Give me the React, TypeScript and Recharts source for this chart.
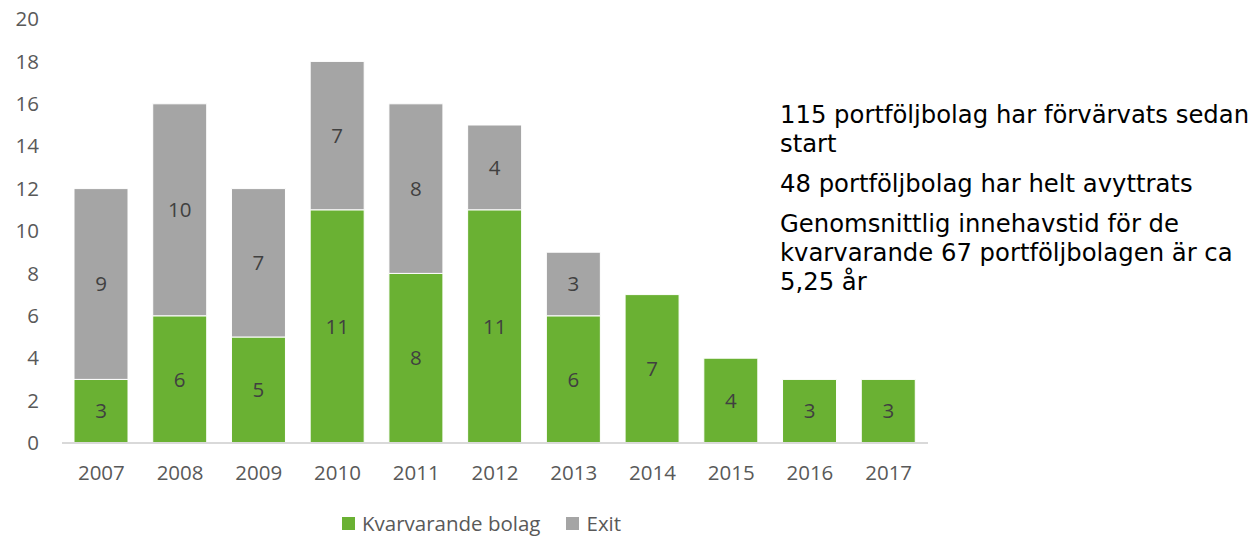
import React from 'react';
import { BarChart, Bar, XAxis, YAxis, LabelList } from 'recharts';

const years = ['2007', '2008', '2009', '2010', '2011', '2012', '2013', '2014', '2015', '2016', '2017'];
const kvarvarande = [3, 6, 5, 11, 8, 11, 6, 7, 4, 3, 3];
const exitValues = [9, 10, 7, 7, 8, 4, 3, 0, 0, 0, 0];
const yTicks = [0, 2, 4, 6, 8, 10, 12, 14, 16, 18, 20];
const seriesNames = ['Kvarvarande bolag', 'Exit'];
const seriesColors = ['#6AB133', '#A5A5A5'];
const noteParagraphs = [
  ['115 portföljbolag har förvärvats sedan', 'start'],
  ['48 portföljbolag har helt avyttrats'],
  ['Genomsnittlig innehavstid för de', 'kvarvarande 67 portföljbolagen är ca', '5,25 år'],
];

const data = years.map((y, i) => ({ year: y, kvar: kvarvarande[i], exit: exitValues[i] }));

const chartFont = '"Open Sans", sans-serif';
const fs = 20.5;

export default function App() {
  return (
    <div style={{ position: 'absolute', left: 0, top: 0, width: 1254, height: 537, background: '#fff', overflow: 'hidden' }}>
      <BarChart
        width={1254}
        height={537}
        data={data}
        margin={{ top: 19, right: 326, bottom: 54, left: 0 }}
      >
        <XAxis
          dataKey="year"
          height={40}
          tickLine={false}
          tickSize={0}
          tickMargin={22}
          axisLine={{ stroke: '#D9D9D9', strokeWidth: 2 }}
          tick={{ fill: '#595959', fontSize: fs, fontFamily: chartFont }}
        />
        <YAxis
          width={62}
          domain={[0, 20]}
          ticks={yTicks}
          interval={0}
          axisLine={false}
          tickLine={false}
          tickSize={0}
          tickMargin={23}
          tick={{ fill: '#595959', fontSize: fs, fontFamily: chartFont }}
        />
        <Bar dataKey="kvar" name={seriesNames[0]} stackId="a" fill={seriesColors[0]} stroke="#ffffff" strokeWidth={1} barSize={54} isAnimationActive={false}>
          <LabelList dataKey="kvar" position="center" fill="#404040" fontSize={fs} fontFamily={chartFont} formatter={(v: any) => (v ? v : '')} />
        </Bar>
        <Bar dataKey="exit" name={seriesNames[1]} stackId="a" fill={seriesColors[1]} stroke="#ffffff" strokeWidth={1} barSize={54} isAnimationActive={false}>
          <LabelList dataKey="exit" position="center" fill="#404040" fontSize={fs} fontFamily={chartFont} formatter={(v: any) => (v ? v : '')} />
        </Bar>
      </BarChart>

      <div
        style={{
          position: 'absolute',
          left: 780,
          top: 100,
          fontFamily: '"DejaVu Sans", Verdana, sans-serif',
          fontSize: 24.3,
          lineHeight: '29px',
          color: '#000',
          whiteSpace: 'nowrap',
        }}
      >
        {noteParagraphs.map((p, i) => (
          <div key={i} style={{ marginBottom: 11 }}>
            {p.map((line, j) => (
              <div key={j}>{line}</div>
            ))}
          </div>
        ))}
      </div>

      <div
        style={{
          position: 'absolute',
          left: 342,
          top: 510,
          display: 'flex',
          alignItems: 'center',
          fontFamily: chartFont,
          fontSize: fs,
          lineHeight: '26px',
          color: '#595959',
          whiteSpace: 'nowrap',
        }}
      >
        {seriesNames.map((n, i) => (
          <div key={n} style={{ display: 'flex', alignItems: 'center', marginRight: i === 0 ? 26 : 0 }}>
            <span style={{ display: 'inline-block', width: 13, height: 13, background: seriesColors[i], marginRight: 7 }} />
            <span>{n}</span>
          </div>
        ))}
      </div>
    </div>
  );
}
